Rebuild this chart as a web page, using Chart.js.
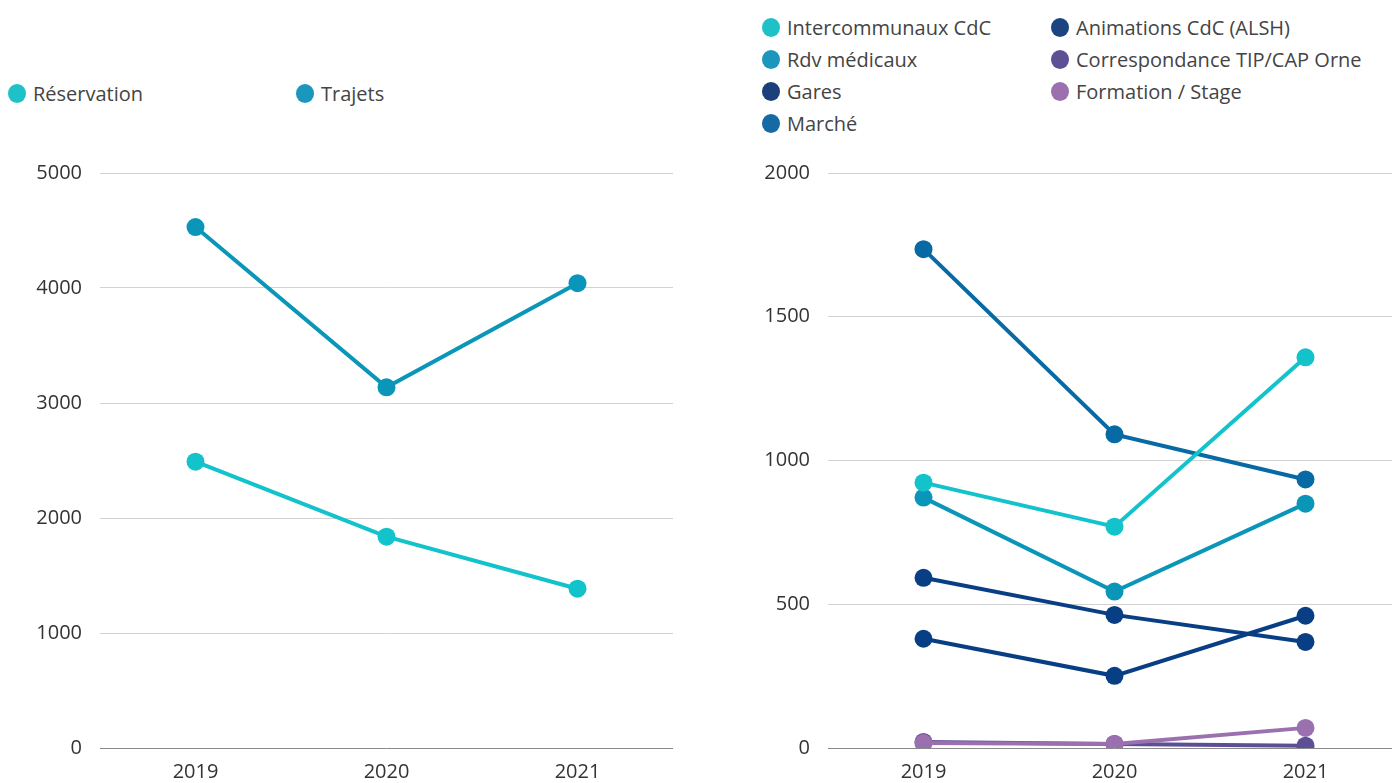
<!DOCTYPE html>
<html>
<head>
<meta charset="utf-8">
<script src="https://cdn.jsdelivr.net/npm/chart.js@4.4.0/dist/chart.umd.min.js"></script>
<style>
  html, body { margin: 0; padding: 0; background: #fff; overflow: hidden; width: 1392px; height: 783px; }
  body { position: relative; font-family: "Open Sans", sans-serif; }
  .wrap { position: absolute; }
  .legend { position: absolute; display: grid; font-size: 20px; color: #444; }
  .legend .item { display: flex; align-items: center; height: 32px; white-space: nowrap; }
  .legend .dot { width: 18px; height: 19px; border-radius: 50%; margin-right: 7px; flex: none; }
  #legend1 { left: 8px; top: 77px; grid-template-columns: 288px 288px; }
  #legend2 { left: 762px; top: 11px; grid-template-columns: 289px auto; grid-template-rows: repeat(4, 32px); grid-auto-flow: column; }
</style>
</head>
<body>
<div id="legend1" class="legend"></div>
<div id="legend2" class="legend"></div>
<div class="wrap" style="left:0; top:143px; width:682px; height:645px;"><canvas id="chart1"></canvas></div>
<div class="wrap" style="left:720px; top:143px; width:690px; height:645px;"><canvas id="chart2"></canvas></div>
<script>
var years = ["2019", "2020", "2021"];

// graphique de gauche
var reservation = [2490, 1838, 1385];
var trajets = [4530, 3136, 4042];

// graphique de droite
var intercommunaux = [923, 770, 1359];
var rdvMedicaux = [871, 544, 850];
var gares = [592, 463, 369];
var marche = [1735, 1091, 934];
var animations = [380, 251, 460];
var correspondance = [21, 14, 8];
var formation = [17, 14, 70];

function serie(label, data, line, dot, order) {
  return {
    label: label,
    data: data,
    borderColor: line,
    backgroundColor: line,
    dotColor: dot,
    borderWidth: 4,
    pointRadius: 9,
    pointHoverRadius: 9,
    pointBorderWidth: 0,
    tension: 0,
    order: order || 0
  };
}

function options(max, step, yWidth) {
  return {
    responsive: true,
    maintainAspectRatio: false,
    animation: false,
    layout: { padding: { top: 2, right: 0, bottom: 0, left: 0 } },
    plugins: { legend: { display: false }, tooltip: { enabled: false } },
    scales: {
      x: {
        offset: true,
        grid: { display: false },
        border: { display: false },
        ticks: { color: '#333', font: { family: 'Open Sans', size: 20 }, padding: 4 }
      },
      y: {
        min: 0,
        max: max,
        afterFit: function (s) { s.width = yWidth; },
        ticks: {
          stepSize: step,
          color: '#333',
          font: { family: 'Open Sans', size: 20 },
          padding: 18,
          callback: function (v) { return String(v); }
        },
        border: { display: false },
        grid: {
          drawTicks: false,
          lineWidth: 1,
          color: function (c) { return c.tick && c.tick.value === 0 ? '#8a8a8a' : '#d2d2d2'; }
        }
      }
    }
  };
}

function legende(id, chart) {
  var box = document.getElementById(id);
  chart.data.datasets.forEach(function (ds) {
    var item = document.createElement('div');
    item.className = 'item';
    var dot = document.createElement('span');
    dot.className = 'dot';
    dot.style.background = ds.dotColor;
    var txt = document.createElement('span');
    txt.textContent = ds.label;
    item.appendChild(dot);
    item.appendChild(txt);
    box.appendChild(item);
  });
}

var chart1 = new Chart(document.getElementById('chart1').getContext('2d'), {
  type: 'line',
  data: {
    labels: years,
    datasets: [
      serie('Réservation', reservation, '#12c3cb', '#1fc1c8'),
      serie('Trajets', trajets, '#0a96b8', '#1b96bd')
    ]
  },
  options: options(5000, 1000, 100)
});

var chart2 = new Chart(document.getElementById('chart2').getContext('2d'), {
  type: 'line',
  data: {
    labels: years,
    datasets: [
      serie('Intercommunaux CdC', intercommunaux, '#12c3cb', '#1fc1c8'),
      serie('Rdv médicaux', rdvMedicaux, '#0a96b8', '#1b96bd'),
      serie('Gares', gares, '#083e84', '#1b3f7a'),
      serie('Marché', marche, '#076aa5', '#166aa3'),
      serie('Animations CdC (ALSH)', animations, '#083e84', '#1b4480'),
      serie('Correspondance TIP/CAP Orne', correspondance, '#5c4f96', '#5e5094'),
      serie('Formation / Stage', formation, '#9b70ae', '#9b70ae', -1)
    ]
  },
  options: options(2000, 500, 108)
});

legende('legend1', chart1);
legende('legend2', chart2);
</script>
</body>
</html>
